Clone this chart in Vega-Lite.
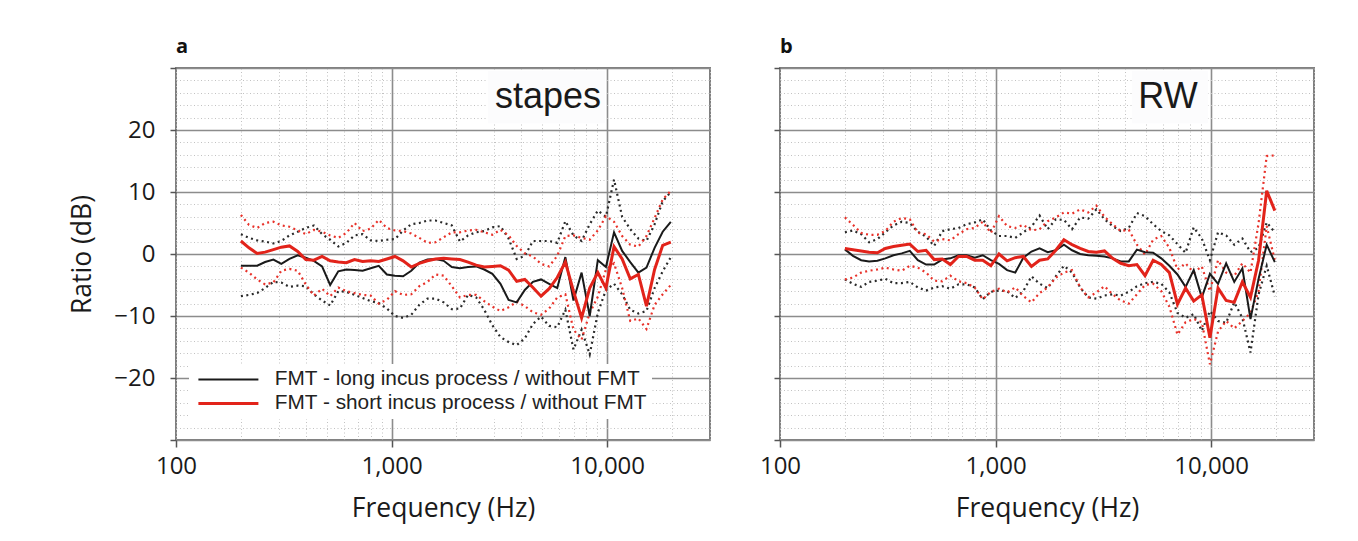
{
  "$schema": "https://vega.github.io/schema/vega-lite/v6.json",
  "padding": {"left": 68, "top": 36, "right": 5, "bottom": 5},
  "background": "white",
  "spacing": 47,
  "datasets": {
    "rows": [
      {"p":"a","f":200,"bm":-1.9,"bu":3.2,"bl":-6.8,"rm":2.1,"ru":6.3,"rl":-2.2},
      {"p":"a","f":218,"bm":-1.9,"bu":2.6,"bl":-6.6,"rm":1.0,"ru":4.7,"rl":-3.0},
      {"p":"a","f":238,"bm":-1.9,"bu":2.2,"bl":-6.3,"rm":0.1,"ru":4.2,"rl":-4.1},
      {"p":"a","f":259,"bm":-1.3,"bu":2.0,"bl":-5.5,"rm":0.3,"ru":5.0,"rl":-4.9},
      {"p":"a","f":283,"bm":-0.9,"bu":1.7,"bl":-4.5,"rm":0.7,"ru":5.2,"rl":-4.6},
      {"p":"a","f":308,"bm":-1.6,"bu":2.1,"bl":-4.6,"rm":1.1,"ru":4.6,"rl":-2.7},
      {"p":"a","f":336,"bm":-0.8,"bu":3.0,"bl":-5.3,"rm":1.3,"ru":4.4,"rl":-2.4},
      {"p":"a","f":367,"bm":-0.2,"bu":3.6,"bl":-5.1,"rm":0.4,"ru":3.8,"rl":-2.7},
      {"p":"a","f":400,"bm":-0.6,"bu":4.2,"bl":-5.2,"rm":-0.9,"ru":3.2,"rl":-4.9},
      {"p":"a","f":436,"bm":-1.1,"bu":4.6,"bl":-6.5,"rm":-1.0,"ru":3.9,"rl":-6.7},
      {"p":"a","f":476,"bm":-2.0,"bu":3.2,"bl":-7.5,"rm":-0.4,"ru":3.6,"rl":-5.6},
      {"p":"a","f":519,"bm":-5.0,"bu":2.3,"bl":-8.3,"rm":-1.1,"ru":3.0,"rl":-6.8},
      {"p":"a","f":566,"bm":-2.8,"bu":1.2,"bl":-6.0,"rm":-1.3,"ru":2.6,"rl":-5.4},
      {"p":"a","f":617,"bm":-2.5,"bu":1.8,"bl":-6.1,"rm":-1.4,"ru":3.4,"rl":-6.0},
      {"p":"a","f":673,"bm":-2.6,"bu":3.0,"bl":-6.6,"rm":-0.9,"ru":5.0,"rl":-6.3},
      {"p":"a","f":734,"bm":-2.7,"bu":3.2,"bl":-7.1,"rm":-1.2,"ru":3.7,"rl":-6.6},
      {"p":"a","f":800,"bm":-2.3,"bu":2.2,"bl":-7.6,"rm":-1.1,"ru":4.1,"rl":-6.7},
      {"p":"a","f":872,"bm":-1.9,"bu":2.1,"bl":-7.9,"rm":-1.2,"ru":5.5,"rl":-8.0},
      {"p":"a","f":951,"bm":-3.3,"bu":2.3,"bl":-8.8,"rm":-0.8,"ru":4.2,"rl":-7.4},
      {"p":"a","f":1037,"bm":-3.5,"bu":2.4,"bl":-10.0,"rm":-0.4,"ru":3.8,"rl":-6.0},
      {"p":"a","f":1131,"bm":-3.6,"bu":3.8,"bl":-10.3,"rm":-1.1,"ru":3.7,"rl":-6.6},
      {"p":"a","f":1234,"bm":-2.7,"bu":4.8,"bl":-9.8,"rm":-2.1,"ru":3.3,"rl":-6.5},
      {"p":"a","f":1345,"bm":-1.4,"bu":5.0,"bl":-8.2,"rm":-1.5,"ru":2.6,"rl":-5.2},
      {"p":"a","f":1467,"bm":-0.9,"bu":5.4,"bl":-7.2,"rm":-1.1,"ru":1.8,"rl":-4.5},
      {"p":"a","f":1600,"bm":-0.8,"bu":5.4,"bl":-7.2,"rm":-0.8,"ru":1.9,"rl":-3.3},
      {"p":"a","f":1745,"bm":-1.1,"bu":5.0,"bl":-7.8,"rm":-0.7,"ru":2.7,"rl":-3.5},
      {"p":"a","f":1903,"bm":-2.1,"bu":4.6,"bl":-8.9,"rm":-0.8,"ru":3.5,"rl":-5.2},
      {"p":"a","f":2075,"bm":-2.3,"bu":2.0,"bl":-8.8,"rm":-0.9,"ru":3.5,"rl":-7.0},
      {"p":"a","f":2263,"bm":-2.1,"bu":3.0,"bl":-6.6,"rm":-1.3,"ru":3.8,"rl":-6.6},
      {"p":"a","f":2468,"bm":-2.0,"bu":3.5,"bl":-7.0,"rm":-1.8,"ru":3.9,"rl":-6.6},
      {"p":"a","f":2691,"bm":-2.5,"bu":3.7,"bl":-9.0,"rm":-2.1,"ru":3.5,"rl":-7.6},
      {"p":"a","f":2935,"bm":-3.2,"bu":4.3,"bl":-11.5,"rm":-2.0,"ru":3.1,"rl":-8.5},
      {"p":"a","f":3200,"bm":-4.8,"bu":4.5,"bl":-13.4,"rm":-1.9,"ru":3.9,"rl":-9.2},
      {"p":"a","f":3490,"bm":-7.4,"bu":2.5,"bl":-14.2,"rm":-2.6,"ru":3.0,"rl":-8.6},
      {"p":"a","f":3806,"bm":-7.8,"bu":-0.8,"bl":-14.7,"rm":-4.4,"ru":1.3,"rl":-7.7},
      {"p":"a","f":4150,"bm":-5.8,"bu":-0.3,"bl":-13.6,"rm":-4.1,"ru":0.1,"rl":-8.4},
      {"p":"a","f":4525,"bm":-4.5,"bu":2.1,"bl":-11.3,"rm":-5.4,"ru":-0.4,"rl":-9.4},
      {"p":"a","f":4935,"bm":-4.1,"bu":2.1,"bl":-10.1,"rm":-6.8,"ru":-1.6,"rl":-9.8},
      {"p":"a","f":5382,"bm":-4.8,"bu":2.1,"bl":-11.6,"rm":-5.6,"ru":-2.0,"rl":-8.8},
      {"p":"a","f":5869,"bm":-5.5,"bu":1.8,"bl":-11.8,"rm":-3.8,"ru":-0.3,"rl":-7.0},
      {"p":"a","f":6400,"bm":-0.5,"bu":5.3,"bl":-9.0,"rm":-1.3,"ru":2.9,"rl":-6.5},
      {"p":"a","f":6979,"bm":-7.5,"bu":3.0,"bl":-15.4,"rm":-6.0,"ru":3.0,"rl":-12.2},
      {"p":"a","f":7611,"bm":-3.0,"bu":2.1,"bl":-12.2,"rm":-10.3,"ru":2.6,"rl":-13.8},
      {"p":"a","f":8300,"bm":-10.0,"bu":4.8,"bl":-16.2,"rm":-5.5,"ru":2.3,"rl":-9.5},
      {"p":"a","f":9051,"bm":-1.0,"bu":7.0,"bl":-9.5,"rm":-3.0,"ru":3.8,"rl":-6.9},
      {"p":"a","f":9870,"bm":-2.1,"bu":6.0,"bl":-5.8,"rm":-5.5,"ru":6.1,"rl":-2.5},
      {"p":"a","f":10764,"bm":3.5,"bu":12.0,"bl":-4.8,"rm":1.2,"ru":5.2,"rl":-1.5},
      {"p":"a","f":11738,"bm":0.5,"bu":6.0,"bl":-6.5,"rm":-0.8,"ru":2.9,"rl":-5.5},
      {"p":"a","f":12800,"bm":-1.3,"bu":4.0,"bl":-9.0,"rm":-4.0,"ru":1.5,"rl":-10.8},
      {"p":"a","f":13959,"bm":-3.0,"bu":2.5,"bl":-9.6,"rm":-3.3,"ru":1.2,"rl":-10.4},
      {"p":"a","f":15222,"bm":-2.2,"bu":2.1,"bl":-9.2,"rm":-8.4,"ru":2.9,"rl":-12.1},
      {"p":"a","f":16600,"bm":1.0,"bu":4.8,"bl":-5.5,"rm":-2.5,"ru":5.8,"rl":-8.2},
      {"p":"a","f":18102,"bm":3.6,"bu":8.5,"bl":-2.8,"rm":1.4,"ru":8.8,"rl":-6.5},
      {"p":"a","f":19740,"bm":5.2,"bu":10.0,"bl":-0.5,"rm":1.9,"ru":10.2,"rl":-5.0},
      {"p":"b","f":200,"bm":0.75,"bu":3.5,"bl":-4.1,"rm":0.9,"ru":5.9,"rl":-4.1},
      {"p":"b","f":218,"bm":-0.3,"bu":3.8,"bl":-4.8,"rm":0.7,"ru":4.7,"rl":-3.8},
      {"p":"b","f":238,"bm":-1.0,"bu":3.2,"bl":-5.3,"rm":0.5,"ru":3.4,"rl":-3.0},
      {"p":"b","f":259,"bm":-1.2,"bu":1.9,"bl":-4.5,"rm":0.3,"ru":3.1,"rl":-2.7},
      {"p":"b","f":283,"bm":-1.1,"bu":2.4,"bl":-4.3,"rm":0.2,"ru":3.1,"rl":-2.5},
      {"p":"b","f":308,"bm":-0.7,"bu":3.5,"bl":-4.0,"rm":0.9,"ru":3.7,"rl":-2.2},
      {"p":"b","f":336,"bm":-0.2,"bu":4.6,"bl":-4.7,"rm":1.2,"ru":5.2,"rl":-2.5},
      {"p":"b","f":367,"bm":0.1,"bu":5.2,"bl":-4.7,"rm":1.4,"ru":5.8,"rl":-2.7},
      {"p":"b","f":400,"bm":0.5,"bu":5.0,"bl":-4.5,"rm":1.6,"ru":5.6,"rl":-1.9},
      {"p":"b","f":436,"bm":-1.0,"bu":3.6,"bl":-5.4,"rm":0.4,"ru":3.4,"rl":-2.2},
      {"p":"b","f":476,"bm":-1.7,"bu":2.8,"bl":-5.9,"rm":0.6,"ru":3.2,"rl":-3.0},
      {"p":"b","f":519,"bm":-1.7,"bu":1.3,"bl":-5.4,"rm":-0.9,"ru":2.0,"rl":-4.3},
      {"p":"b","f":566,"bm":-0.9,"bu":3.7,"bl":-5.2,"rm":-0.8,"ru":2.4,"rl":-4.4},
      {"p":"b","f":617,"bm":-0.7,"bu":4.0,"bl":-5.6,"rm":-1.7,"ru":2.2,"rl":-3.5},
      {"p":"b","f":673,"bm":-0.2,"bu":4.2,"bl":-4.9,"rm":-0.4,"ru":3.2,"rl":-4.4},
      {"p":"b","f":734,"bm":-0.2,"bu":4.8,"bl":-4.9,"rm":-0.4,"ru":4.0,"rl":-4.7},
      {"p":"b","f":800,"bm":-0.6,"bu":5.1,"bl":-5.4,"rm":-1.0,"ru":4.2,"rl":-5.4},
      {"p":"b","f":872,"bm":-0.2,"bu":5.6,"bl":-7.3,"rm":-1.0,"ru":5.2,"rl":-7.3},
      {"p":"b","f":951,"bm":-1.0,"bu":3.8,"bl":-6.1,"rm":-1.9,"ru":3.4,"rl":-6.1},
      {"p":"b","f":1037,"bm":-1.6,"bu":2.9,"bl":-5.9,"rm":0.0,"ru":6.1,"rl":-5.6},
      {"p":"b","f":1131,"bm":-2.6,"bu":2.9,"bl":-6.0,"rm":-1.1,"ru":4.5,"rl":-6.2},
      {"p":"b","f":1234,"bm":-3.0,"bu":2.6,"bl":-7.1,"rm":-0.6,"ru":4.2,"rl":-5.4},
      {"p":"b","f":1345,"bm":-0.6,"bu":3.5,"bl":-6.0,"rm":-0.4,"ru":4.7,"rl":-6.8},
      {"p":"b","f":1467,"bm":0.4,"bu":4.4,"bl":-3.6,"rm":-2.0,"ru":3.8,"rl":-7.8},
      {"p":"b","f":1600,"bm":0.9,"bu":6.2,"bl":-4.8,"rm":-1.0,"ru":4.0,"rl":-6.3},
      {"p":"b","f":1745,"bm":0.3,"bu":4.0,"bl":-5.5,"rm":-0.8,"ru":5.3,"rl":-5.4},
      {"p":"b","f":1903,"bm":0.6,"bu":5.6,"bl":-3.6,"rm":0.6,"ru":5.9,"rl":-3.8},
      {"p":"b","f":2075,"bm":1.5,"bu":5.5,"bl":-1.9,"rm":2.3,"ru":6.7,"rl":-3.0},
      {"p":"b","f":2263,"bm":0.6,"bu":4.0,"bl":-3.0,"rm":1.5,"ru":6.5,"rl":-2.6},
      {"p":"b","f":2468,"bm":0.0,"bu":5.9,"bl":-5.4,"rm":0.9,"ru":7.2,"rl":-5.4},
      {"p":"b","f":2691,"bm":-0.2,"bu":5.7,"bl":-7.0,"rm":0.4,"ru":6.7,"rl":-7.0},
      {"p":"b","f":2935,"bm":-0.3,"bu":7.2,"bl":-7.2,"rm":0.3,"ru":7.8,"rl":-6.2},
      {"p":"b","f":3200,"bm":-0.4,"bu":5.6,"bl":-6.7,"rm":0.5,"ru":6.0,"rl":-5.2},
      {"p":"b","f":3490,"bm":-0.7,"bu":4.5,"bl":-6.5,"rm":-0.7,"ru":4.8,"rl":-6.5},
      {"p":"b","f":3806,"bm":-1.2,"bu":3.7,"bl":-6.7,"rm":-1.5,"ru":3.7,"rl":-7.5},
      {"p":"b","f":4150,"bm":-1.2,"bu":4.2,"bl":-6.1,"rm":-1.9,"ru":3.9,"rl":-8.0},
      {"p":"b","f":4525,"bm":0.7,"bu":6.6,"bl":-5.2,"rm":-1.7,"ru":1.5,"rl":-6.5},
      {"p":"b","f":4935,"bm":0.3,"bu":6.1,"bl":-4.7,"rm":-3.5,"ru":-0.1,"rl":-5.0},
      {"p":"b","f":5382,"bm":0.2,"bu":4.8,"bl":-4.5,"rm":-1.0,"ru":2.3,"rl":-4.8},
      {"p":"b","f":5869,"bm":-0.7,"bu":3.7,"bl":-4.8,"rm":-1.7,"ru":2.9,"rl":-6.0},
      {"p":"b","f":6400,"bm":-1.9,"bu":3.0,"bl":-6.2,"rm":-3.0,"ru":1.0,"rl":-8.5},
      {"p":"b","f":6979,"bm":-3.3,"bu":1.6,"bl":-9.5,"rm":-8.1,"ru":-2.5,"rl":-13.0},
      {"p":"b","f":7611,"bm":-5.3,"bu":0.2,"bl":-10.3,"rm":-5.5,"ru":-1.5,"rl":-11.0},
      {"p":"b","f":8300,"bm":-2.6,"bu":4.3,"bl":-9.7,"rm":-7.6,"ru":-3.0,"rl":-10.5},
      {"p":"b","f":9051,"bm":-7.0,"bu":2.5,"bl":-12.4,"rm":-6.6,"ru":-2.0,"rl":-11.0},
      {"p":"b","f":9870,"bm":-3.2,"bu":-1.0,"bl":-9.2,"rm":-13.5,"ru":-6.0,"rl":-17.8},
      {"p":"b","f":10764,"bm":-4.8,"bu":3.5,"bl":-10.8,"rm":-5.5,"ru":-1.0,"rl":-12.5},
      {"p":"b","f":11738,"bm":-1.5,"bu":3.0,"bl":-11.1,"rm":-7.5,"ru":-3.0,"rl":-10.8},
      {"p":"b","f":12800,"bm":-4.5,"bu":1.5,"bl":-7.8,"rm":-7.8,"ru":-3.5,"rl":-12.0},
      {"p":"b","f":13959,"bm":-2.3,"bu":2.5,"bl":-10.3,"rm":-4.5,"ru":-1.5,"rl":-10.8},
      {"p":"b","f":15222,"bm":-10.5,"bu":0.3,"bl":-15.9,"rm":-7.0,"ru":-3.0,"rl":-9.5},
      {"p":"b","f":16600,"bm":-4.0,"bu":1.0,"bl":-6.5,"rm":-1.0,"ru":5.0,"rl":-6.0},
      {"p":"b","f":18102,"bm":1.5,"bu":5.1,"bl":-1.9,"rm":10.2,"ru":15.8,"rl":4.5},
      {"p":"b","f":19740,"bm":-1.3,"bu":3.5,"bl":-6.8,"rm":7.0,"ru":15.9,"rl":-1.0}
    ]
  },
  "hconcat": [
    {
      "width": 534,
      "height": 372,
      "title": {"text": "a"},
      "data": {"name": "rows"},
      "transform": [{"filter": "datum.p == 'a'"}],
      "layer": [
        {
          "transform": [{"fold": ["bu", "bl"]}],
          "mark": {"type": "line", "color": "#2a2a2a", "strokeWidth": 2.2, "strokeDash": [2, 3.5], "strokeCap": "butt"},
          "encoding": {
            "x": {
              "field": "f", "type": "quantitative",
              "scale": {"type": "log", "domain": [100, 30000], "nice": false},
              "axis": {
                "title": "Frequency (Hz)",
                "values": [100,200,300,400,500,600,700,800,900,1000,2000,3000,4000,5000,6000,7000,8000,9000,10000,20000,30000],
                "tickCount": 200,
                "format": ",",
                "labelExpr": "(datum.value==100||datum.value==1000||datum.value==10000) ? datum.label : ''",
                "labelFontSize": {"condition": {"test": "datum.value==100||datum.value==1000||datum.value==10000", "value": 24}, "value": 0},
                "labelOverlap": false, "labelFlush": false,
                "labelFont": "Open Sans", "labelColor": "#1a1a1a", "labelPadding": 7,
                "tickColor": "#555555", "tickWidth": 1.5, "tickSize": 7,
                "tickOpacity": {"condition": {"test": "datum.value==100||datum.value==1000||datum.value==10000", "value": 1}, "value": 0},
                "domain": false,
                "grid": true,
                "gridColor": {"condition": {"test": "datum.value==1000||datum.value==10000", "value": "#8c8c8c"}, "value": "#c2c2c2"},
                "gridWidth": {"condition": {"test": "datum.value==1000||datum.value==10000", "value": 1.6}, "value": 1},
                "gridDash": {"condition": {"test": "datum.value==1000||datum.value==10000", "value": []}, "value": [1, 2.5]},
                "titleFont": "Open Sans", "titleFontSize": 26.5, "titleFontWeight": "normal", "titleColor": "#1a1a1a", "titlePadding": 17
              }
            },
            "y": {
              "field": "value", "type": "quantitative",
              "scale": {"domain": [-30, 30], "nice": false},
              "axis": {
                "title": "Ratio (dB)",
                "values": [-30,-28,-26,-24,-22,-20,-18,-16,-14,-12,-10,-8,-6,-4,-2,0,2,4,6,8,10,12,14,16,18,20,22,24,26,28,30],
                "tickCount": 200,
                "format": "d",
                "labelExpr": "(datum.value % 10 == 0 && abs(datum.value) <= 20) ? datum.label : ''",
                "labelFontSize": {"condition": {"test": "datum.value % 10 == 0 && abs(datum.value) <= 20", "value": 24}, "value": 0},
                "labelOverlap": false, "labelFlush": false,
                "labelFont": "Open Sans", "labelColor": "#1a1a1a", "labelPadding": 15,
                "tickColor": "#555555", "tickWidth": 1.5, "tickSize": 6,
                "tickOpacity": {"condition": {"test": "datum.value % 10 == 0", "value": 1}, "value": 0},
                "domain": false,
                "grid": true,
                "gridColor": {"condition": {"test": "datum.value % 10 == 0", "value": "#8c8c8c"}, "value": "#c2c2c2"},
                "gridWidth": {"condition": {"test": "datum.value % 10 == 0", "value": 1.6}, "value": 1},
                "gridDash": {"condition": {"test": "datum.value % 10 == 0", "value": []}, "value": [1, 2.5]},
                "titleFont": "Open Sans", "titleFontSize": 26.5, "titleFontWeight": "normal", "titleColor": "#1a1a1a", "titlePadding": 17
              }
            },
            "detail": {"field": "key"}
          }
        },
        {
          "transform": [{"fold": ["ru", "rl"]}],
          "mark": {"type": "line", "color": "#e8322a", "strokeWidth": 2.2, "strokeDash": [2, 3.5], "strokeCap": "butt"},
          "encoding": {
            "x": {"field": "f", "type": "quantitative"},
            "y": {"field": "value", "type": "quantitative"},
            "detail": {"field": "key"}
          }
        },
        {
          "transform": [{"fold": ["bm", "rm"]}],
          "mark": {"type": "line"},
          "encoding": {
            "x": {"field": "f", "type": "quantitative"},
            "y": {"field": "value", "type": "quantitative"},
            "color": {
              "field": "key", "type": "ordinal",
              "scale": {"domain": ["bm", "rm"], "range": ["#1a1a1a", "#e2231a"]},
              "legend": {
                "title": null, "orient": "none", "legendX": 13, "legendY": 296,
                "fillColor": "white", "padding": 5,
                "symbolType": "M-1,0H9", "symbolSize": 144,
                "labelFont": "Liberation Sans", "labelFontSize": 20.8, "labelColor": "#222222",
                "labelOffset": 60, "rowPadding": 2, "labelLimit": 600,
                "labelExpr": "datum.value == 'bm' ? 'FMT - long incus process / without FMT' : 'FMT - short incus process / without FMT'"
              }
            },
            "strokeWidth": {
              "field": "key", "type": "ordinal",
              "scale": {"domain": ["bm", "rm"], "range": [2, 3]},
              "legend": {
                "title": null, "orient": "none", "legendX": 13, "legendY": 296,
                "fillColor": "white", "padding": 5,
                "symbolType": "M-1,0H9", "symbolSize": 144,
                "labelFont": "Liberation Sans", "labelFontSize": 20.8, "labelColor": "#222222",
                "labelOffset": 60, "rowPadding": 2, "labelLimit": 600,
                "labelExpr": "datum.value == 'bm' ? 'FMT - long incus process / without FMT' : 'FMT - short incus process / without FMT'"
              }
            }
          }
        },
        {
          "data": {"values": [{}]},
          "mark": {"type": "rect", "fill": "#fcfcfd"},
          "encoding": {
            "x": {"datum": 2800},
            "x2": {"datum": 9768},
            "y": {"datum": 29.5},
            "y2": {"datum": 21.1}
          }
        },
        {
          "data": {"values": [{}]},
          "mark": {"type": "text", "text": "stapes", "font": "Liberation Sans", "fontSize": 36, "color": "#1a1a1a", "align": "center", "baseline": "alphabetic"},
          "encoding": {
            "x": {"datum": 5313},
            "y": {"datum": 23.5}
          }
        }
      ]
    },
    {
      "width": 534,
      "height": 372,
      "title": {"text": "b"},
      "data": {"name": "rows"},
      "transform": [{"filter": "datum.p == 'b'"}],
      "layer": [
        {
          "transform": [{"fold": ["bu", "bl"]}],
          "mark": {"type": "line", "color": "#2a2a2a", "strokeWidth": 2.2, "strokeDash": [2, 3.5], "strokeCap": "butt"},
          "encoding": {
            "x": {
              "field": "f", "type": "quantitative",
              "scale": {"type": "log", "domain": [100, 30000], "nice": false},
              "axis": {
                "title": "Frequency (Hz)",
                "values": [100,200,300,400,500,600,700,800,900,1000,2000,3000,4000,5000,6000,7000,8000,9000,10000,20000,30000],
                "tickCount": 200,
                "format": ",",
                "labelExpr": "(datum.value==100||datum.value==1000||datum.value==10000) ? datum.label : ''",
                "labelFontSize": {"condition": {"test": "datum.value==100||datum.value==1000||datum.value==10000", "value": 24}, "value": 0},
                "labelOverlap": false, "labelFlush": false,
                "labelFont": "Open Sans", "labelColor": "#1a1a1a", "labelPadding": 7,
                "tickColor": "#555555", "tickWidth": 1.5, "tickSize": 7,
                "tickOpacity": {"condition": {"test": "datum.value==100||datum.value==1000||datum.value==10000", "value": 1}, "value": 0},
                "domain": false,
                "grid": true,
                "gridColor": {"condition": {"test": "datum.value==1000||datum.value==10000", "value": "#8c8c8c"}, "value": "#c2c2c2"},
                "gridWidth": {"condition": {"test": "datum.value==1000||datum.value==10000", "value": 1.6}, "value": 1},
                "gridDash": {"condition": {"test": "datum.value==1000||datum.value==10000", "value": []}, "value": [1, 2.5]},
                "titleFont": "Open Sans", "titleFontSize": 26.5, "titleFontWeight": "normal", "titleColor": "#1a1a1a", "titlePadding": 17
              }
            },
            "y": {
              "field": "value", "type": "quantitative",
              "scale": {"domain": [-30, 30], "nice": false},
              "axis": {
                "title": null,
                "labels": false,
                "values": [-30,-28,-26,-24,-22,-20,-18,-16,-14,-12,-10,-8,-6,-4,-2,0,2,4,6,8,10,12,14,16,18,20,22,24,26,28,30],
                "tickCount": 200,
                "tickColor": "#555555", "tickWidth": 1.5, "tickSize": 6,
                "tickOpacity": {"condition": {"test": "datum.value % 10 == 0", "value": 1}, "value": 0},
                "domain": false,
                "grid": true,
                "gridColor": {"condition": {"test": "datum.value % 10 == 0", "value": "#8c8c8c"}, "value": "#c2c2c2"},
                "gridWidth": {"condition": {"test": "datum.value % 10 == 0", "value": 1.6}, "value": 1},
                "gridDash": {"condition": {"test": "datum.value % 10 == 0", "value": []}, "value": [1, 2.5]}
              }
            },
            "detail": {"field": "key"}
          }
        },
        {
          "transform": [{"fold": ["ru", "rl"]}],
          "mark": {"type": "line", "color": "#e8322a", "strokeWidth": 2.2, "strokeDash": [2, 3.5], "strokeCap": "butt"},
          "encoding": {
            "x": {"field": "f", "type": "quantitative"},
            "y": {"field": "value", "type": "quantitative"},
            "detail": {"field": "key"}
          }
        },
        {
          "transform": [{"fold": ["bm", "rm"]}],
          "mark": {"type": "line"},
          "encoding": {
            "x": {"field": "f", "type": "quantitative"},
            "y": {"field": "value", "type": "quantitative"},
            "color": {
              "field": "key", "type": "ordinal",
              "scale": {"domain": ["bm", "rm"], "range": ["#1a1a1a", "#e2231a"]},
              "legend": null
            },
            "strokeWidth": {
              "field": "key", "type": "ordinal",
              "scale": {"domain": ["bm", "rm"], "range": [2, 3]},
              "legend": null
            }
          }
        },
        {
          "data": {"values": [{}]},
          "mark": {"type": "rect", "fill": "#fcfcfd"},
          "encoding": {
            "x": {"datum": 4293},
            "x2": {"datum": 9665},
            "y": {"datum": 29.5},
            "y2": {"datum": 21.1}
          }
        },
        {
          "data": {"values": [{}]},
          "mark": {"type": "text", "text": "RW", "font": "Liberation Sans", "fontSize": 36, "color": "#1a1a1a", "align": "center", "baseline": "alphabetic"},
          "encoding": {
            "x": {"datum": 6304},
            "y": {"datum": 23.5}
          }
        }
      ]
    }
  ],
  "resolve": {"scale": {"color": "independent", "strokeWidth": "independent"}},
  "config": {
    "view": {"stroke": "#7f7f7f", "strokeWidth": 2},
    "title": {"anchor": "start", "frame": "group", "font": "Open Sans", "fontSize": 20, "fontWeight": "bold", "color": "#111111", "offset": 10}
  }
}
